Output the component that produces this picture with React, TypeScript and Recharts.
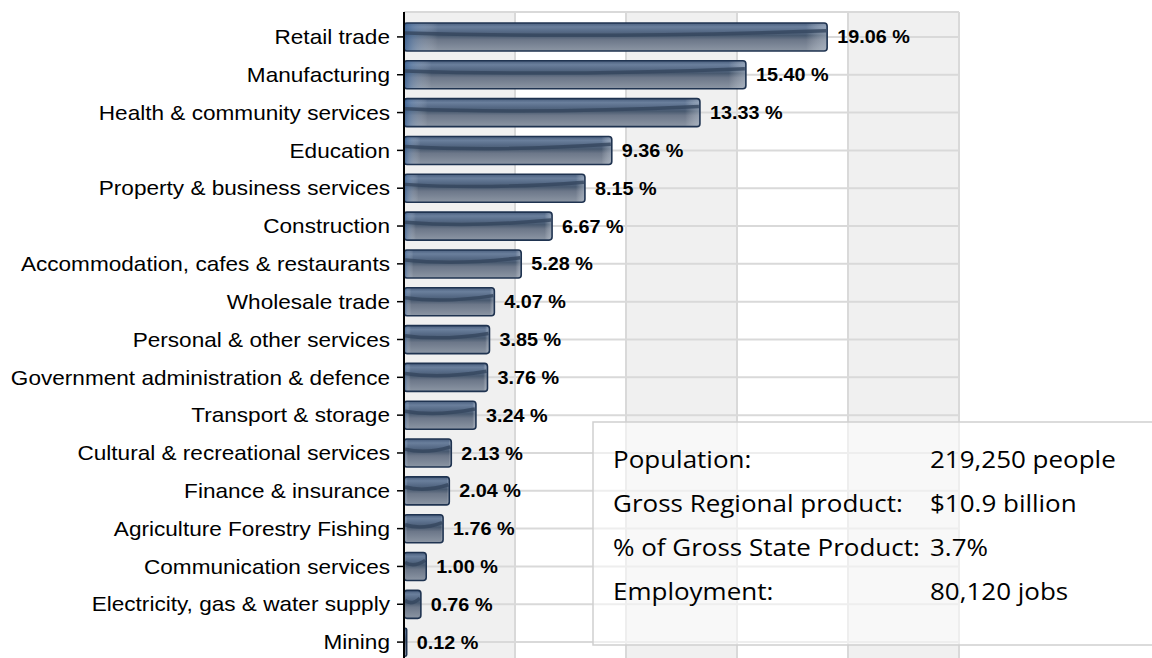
import { Bar, BarChart, CartesianGrid, LabelList, XAxis, YAxis } from 'recharts';

const industries = [
  'Retail trade',
  'Manufacturing',
  'Health & community services',
  'Education',
  'Property & business services',
  'Construction',
  'Accommodation, cafes & restaurants',
  'Wholesale trade',
  'Personal & other services',
  'Government administration & defence',
  'Transport & storage',
  'Cultural & recreational services',
  'Finance & insurance',
  'Agriculture Forestry Fishing',
  'Communication services',
  'Electricity, gas & water supply',
  'Mining',
];

const shares = [
  19.06, 15.4, 13.33, 9.36, 8.15, 6.67, 5.28, 4.07, 3.85, 3.76, 3.24, 2.13, 2.04,
  1.76, 1.0, 0.76, 0.12,
];

const xTicks = [0, 5, 10, 15, 20, 25];

const summaryLabels = [
  'Population:',
  'Gross Regional product:',
  '% of Gross State Product:',
  'Employment:',
];
const summaryValues = ['219,250 people', '$10.9 billion', '3.7%', '80,120 jobs'];

const data = industries.map((name, i) => ({ name, share: shares[i] }));

const FONT = '"Liberation Sans", Arial, sans-serif';

function CategoryTick(props: any) {
  const { x, y, payload } = props;
  return (
    <g transform={`translate(${x},${y})`}>
      <text
        transform="scale(1.13,1)"
        textAnchor="end"
        dy="0.36em"
        fontSize={20}
        fontFamily={FONT}
        fill="#000"
      >
        {payload.value}
      </text>
    </g>
  );
}

function ShareLabel(props: any) {
  const { x, y, width, height, value } = props;
  const tx = Number(x) + Number(width) + 10;
  const ty = Number(y) + Number(height) / 2;
  return (
    <g transform={`translate(${tx},${ty})`}>
      <text
        transform="scale(1.1,1)"
        dy="0.36em"
        fontSize={18}
        fontWeight="bold"
        fontFamily={FONT}
        fill="#000"
      >
        {Number(value).toFixed(2)} %
      </text>
    </g>
  );
}

function GlossyBar(props: any) {
  const { x, y, width, height } = props;
  if (!width || width <= 0) return null;
  const r = Math.min(3, width / 2);
  const mid = x + width * 0.45;
  return (
    <g>
      <rect x={x} y={y} width={width} height={height} rx={r} fill="url(#barBody)" />
      <rect x={x} y={y} width={width} height={height} rx={r} fill="url(#barEdge)" />
      {width > 12 && (
        <path
          d={`M${x + 1},${y + height * 0.36} Q${mid},${y + height * 0.55} ${x + width - 1},${y + height * 0.28}`}
          stroke="#34465e"
          strokeWidth={3.5}
          strokeOpacity={0.8}
          fill="none"
        />
      )}
      <rect
        x={x}
        y={y}
        width={width}
        height={height}
        rx={r}
        fill="none"
        stroke="#1f3350"
        strokeWidth={1.6}
      />
    </g>
  );
}

function SummaryBox() {
  return (
    <svg
      width={1152}
      height={658}
      style={{ position: 'absolute', left: 0, top: 0, pointerEvents: 'none' }}
    >
      <rect
        x={593}
        y={422}
        width={600}
        height={223}
        fill="#ffffff"
        fillOpacity={0.55}
        stroke="#cfcfcf"
        strokeWidth={1.5}
      />
      {summaryLabels.map((label, i) => (
        <g key={label}>
          <text
            x={613 / 1.13}
            y={468 + i * 44}
            transform="scale(1.13,1)"
            fontSize={23}
            fontFamily='"Open Sans", sans-serif'
            fill="#000"
          >
            {label}
          </text>
          <text
            x={930 / 1.13}
            y={468 + i * 44}
            transform="scale(1.13,1)"
            fontSize={23}
            fontFamily='"Open Sans", sans-serif'
            fill="#000"
          >
            {summaryValues[i]}
          </text>
        </g>
      ))}
    </svg>
  );
}

export default function App() {
  return (
    <div
      style={{
        position: 'absolute',
        left: 0,
        top: 0,
        width: 1152,
        height: 658,
        overflow: 'hidden',
        background: '#fff',
      }}
    >
      <BarChart
        width={1152}
        height={661}
        data={data}
        layout="vertical"
        margin={{ top: 12, right: 193, bottom: 0, left: 0 }}
        barSize={28}
      >
        <defs>
          <linearGradient id="barBody" x1="0" y1="0" x2="0" y2="1">
            <stop offset="0" stopColor="#4a5f7e" />
            <stop offset="0.14" stopColor="#6a7f9c" />
            <stop offset="0.3" stopColor="#566a86" />
            <stop offset="0.45" stopColor="#48596f" />
            <stop offset="0.6" stopColor="#6c7789" />
            <stop offset="1" stopColor="#8c96a4" />
          </linearGradient>
          <linearGradient id="barEdge" x1="0" y1="0" x2="1" y2="0">
            <stop offset="0" stopColor="#2d5a94" stopOpacity={0.7} />
            <stop offset="0.03" stopColor="#7c9cc4" stopOpacity={0.35} />
            <stop offset="0.08" stopColor="#ffffff" stopOpacity={0} />
            <stop offset="0.95" stopColor="#ffffff" stopOpacity={0} />
            <stop offset="1" stopColor="#c8d2de" stopOpacity={0.45} />
          </linearGradient>
        </defs>
        <CartesianGrid
          stroke="#d9d9d9"
          strokeWidth={2}
          verticalFill={['#f0f0f0', '#ffffff']}
          fillOpacity={1}
        />
        <XAxis type="number" domain={[0, 25]} ticks={xTicks} hide />
        <YAxis
          type="category"
          dataKey="name"
          width={404}
          padding={{ top: 6, bottom: 0 }}
          interval={0}
          tick={<CategoryTick />}
          tickSize={7}
          tickMargin={7}
          axisLine={{ stroke: '#000', strokeWidth: 2 }}
          tickLine={{ stroke: '#000', strokeWidth: 1.5 }}
        />
        <Bar dataKey="share" shape={<GlossyBar />} isAnimationActive={false}>
          <LabelList dataKey="share" content={<ShareLabel />} />
        </Bar>
      </BarChart>
      <SummaryBox />
    </div>
  );
}
